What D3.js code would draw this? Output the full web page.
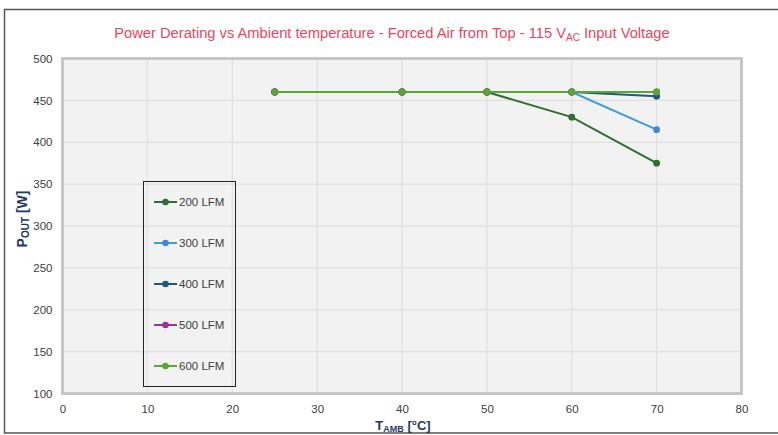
<!DOCTYPE html>
<html><head><meta charset="utf-8">
<script src="https://cdn.jsdelivr.net/npm/d3@7"></script>
<style>body{margin:0;background:#fff;}svg{display:block;font-family:"Liberation Sans",Arial,sans-serif;}</style>
</head><body><svg id="c" width="778" height="435"></svg>
<script>
const temps = [25, 40, 50, 60, 70];
const seriesNames = ["200 LFM", "300 LFM", "400 LFM", "500 LFM", "600 LFM"];
const lfm200 = [460, 460, 460, 430, 375];
const lfm300 = [460, 460, 460, 460, 415];
const lfm400 = [460, 460, 460, 460, 455];
const lfm500 = [460, 460, 460, 460, 460];
const lfm600 = [460, 460, 460, 460, 460];
const xTicks = [0, 10, 20, 30, 40, 50, 60, 70, 80];
const yTicks = [100, 150, 200, 250, 300, 350, 400, 450, 500];
const colors = ["#2e6e33", "#3a9fd6", "#1f5a78", "#9b3596", "#5ba633"];
const markerColors = ["#2e6e33", "#4a86d0", "#1f5a78", "#9b3596", "#5ba633"];
const values = [lfm200, lfm300, lfm400, lfm500, lfm600];

const svg = d3.select("#c");
svg.append("rect").attr("x",4.5).attr("y",9.5).attr("width",790).attr("height",423.5)
  .attr("fill","none").attr("stroke","#555").attr("stroke-width",1.5);

const x = d3.scaleLinear().domain([0,80]).range([62.5,741.5]);
const y = d3.scaleLinear().domain([100,500]).range([393.5,58.5]);

svg.append("rect").attr("x",x(0)).attr("y",y(500)).attr("width",x(80)-x(0)).attr("height",y(100)-y(500))
  .attr("fill","#f2f2f2").attr("stroke","#c6c6c6").attr("stroke-width",3);

const g = svg.append("g");
g.selectAll("line.v").data(xTicks.slice(1,-1)).enter().append("line")
  .attr("x1",d=>x(d)).attr("x2",d=>x(d)).attr("y1",y(500)+1.5).attr("y2",y(100)-1.5)
  .attr("stroke","#dcdcdc").attr("stroke-width",1);
g.selectAll("line.h").data(yTicks.slice(1,-1)).enter().append("line")
  .attr("y1",d=>y(d)).attr("y2",d=>y(d)).attr("x1",x(0)+1.5).attr("x2",x(80)-1.5)
  .attr("stroke","#dcdcdc").attr("stroke-width",1);

const xAxis = d3.axisBottom(x).tickValues(xTicks).tickSize(0).tickPadding(0);
const xa = svg.append("g").attr("transform",`translate(0,${y(100)+11})`).call(xAxis);
xa.select(".domain").remove();
xa.selectAll("text").attr("fill","#404040").style("font-size","11.5px").attr("dy","0.71em");
const yAxis = d3.axisLeft(y).tickValues(yTicks).tickSize(0).tickPadding(0);
const ya = svg.append("g").attr("transform",`translate(${x(0)-10},0)`).call(yAxis);
ya.select(".domain").remove();
ya.selectAll("text").attr("fill","#404040").style("font-size","11.5px");

const t = svg.append("text").attr("x",392).attr("y",38).attr("text-anchor","middle")
  .attr("fill","#e4485f").style("font-size","14.7px");
t.append("tspan").text("Power Derating vs Ambient temperature - Forced Air from Top - 115 V");
t.append("tspan").text("AC").style("font-size","10px").attr("dy",3);
t.append("tspan").text(" Input Voltage").attr("dy",-3);

const xt = svg.append("text").attr("x",403).attr("y",430).attr("text-anchor","middle")
  .attr("fill","#1f3a5f").style("font-size","13px").style("font-weight","bold");
xt.append("tspan").text("T");
xt.append("tspan").text("AMB").style("font-size","9px").attr("dy",2);
xt.append("tspan").text(" [°C]").attr("dy",-2);
const yt = svg.append("text").attr("transform","translate(27,219) rotate(-90)").attr("text-anchor","middle")
  .attr("fill","#1f3a5f").style("font-size","14px").style("font-weight","bold");
yt.append("tspan").text("P");
yt.append("tspan").text("OUT").style("font-size","10px").attr("dy",2);
yt.append("tspan").text(" [W]").attr("dy",-2);

const line = d3.line().x((d,i)=>x(temps[i])).y(d=>y(d));
values.forEach((vals,si)=>{
  svg.append("path").datum(vals).attr("d",line).attr("fill","none")
    .attr("stroke",colors[si]).attr("stroke-width",2);
});
values.forEach((vals,si)=>{
  svg.selectAll(null).data(vals).enter().append("circle")
    .attr("cx",(d,i)=>x(temps[i])).attr("cy",d=>y(d)).attr("r",3.4).attr("fill",markerColors[si]);
});

svg.append("rect").attr("x",143.5).attr("y",181.5).attr("width",92).attr("height",205)
  .attr("fill","none").attr("stroke","#222").attr("stroke-width",1);
const ly = d3.scalePoint().domain(seriesNames).range([202,366]);
seriesNames.forEach((n,i)=>{
  const yy = ly(n);
  svg.append("line").attr("x1",154).attr("x2",177).attr("y1",yy).attr("y2",yy)
    .attr("stroke",colors[i]).attr("stroke-width",2);
  svg.append("circle").attr("cx",165.5).attr("cy",yy).attr("r",3.3).attr("fill",markerColors[i]);
  svg.append("text").attr("x",179).attr("y",yy).attr("dy","0.35em").attr("fill","#404040")
    .style("font-size","11.5px").text(n);
});
</script></body></html>
